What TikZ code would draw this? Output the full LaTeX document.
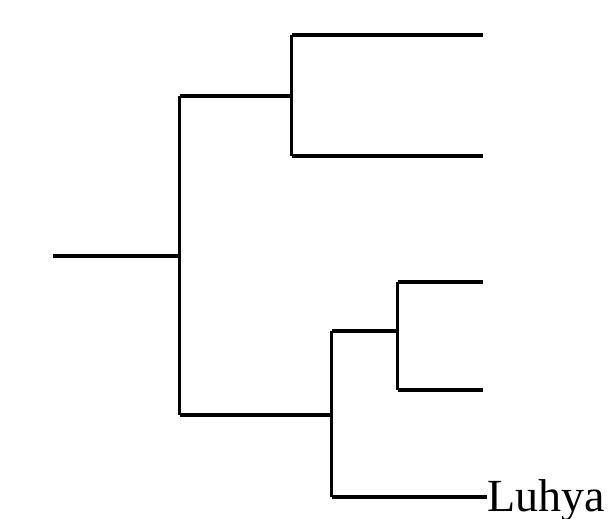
\documentclass[tikz,border=0pt]{standalone}
\usepackage{fontspec}
\setmainfont{Liberation Serif}
\begin{document}
\begin{tikzpicture}[x=1pt,y=-1pt,
  branch/.style={line width=3.6pt,line cap=butt,line join=miter},
  leaflabel/.style={inner sep=0pt,font=\fontsize{46}{50}\selectfont}]
\useasboundingbox (0,0) rectangle (616,519);
\coordinate (root) at (53,256);
\coordinate (n1) at (179.5,256);
\coordinate (n2) at (291.5,96);
\coordinate (n3) at (331.5,415);
\coordinate (n4) at (397.5,331);
\coordinate (l1) at (483,35);
\coordinate (l2) at (483,156);
\coordinate (l3) at (483,282);
\coordinate (l4) at (483,390);
\node[leaflabel,anchor=base west] (luhya) at (487,511) {Luhya};
\coordinate (l5) at (luhya.west |- 0,497);
\draw[branch] (root) -- (n1);
\draw[branch] (n1 |- n2) -- (n1 |- n3);
\draw[branch] (n1 |- n2) -- (n2);
\draw[branch] (n2 |- l1) -- (n2 |- l2);
\draw[branch] (n2 |- l1) -- (l1);
\draw[branch] (n2 |- l2) -- (l2);
\draw[branch] (n1 |- n3) -- (n3);
\draw[branch] (n3 |- n4) -- (n3 |- l5);
\draw[branch] (n3 |- n4) -- (n4);
\draw[branch] (n4 |- l3) -- (n4 |- l4);
\draw[branch] (n4 |- l3) -- (l3);
\draw[branch] (n4 |- l4) -- (l4);
\draw[branch] (n3 |- l5) -- (l5);
\end{tikzpicture}
\end{document}
